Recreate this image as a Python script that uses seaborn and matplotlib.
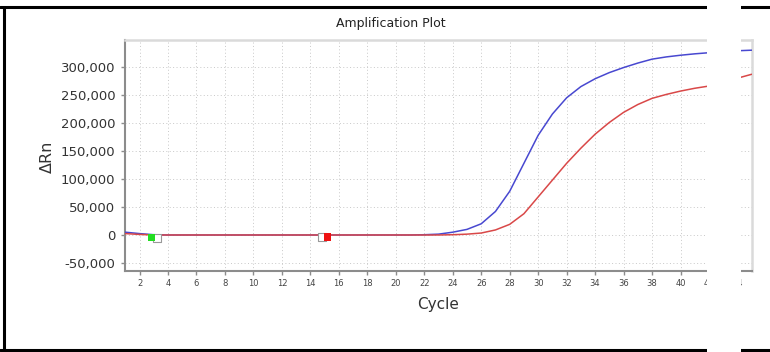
import matplotlib
matplotlib.use("Agg")
import matplotlib.pyplot as plt
from matplotlib.patches import Rectangle
from matplotlib.lines import Line2D
from matplotlib.ticker import FuncFormatter
import seaborn as sns
import pandas as pd

# ---- data ----
cycles = list(range(1, 46))
blue_drn = [5000, 2500, 500, 0, 0, 0, 0, 0, 0, 0,
            0, 0, 0, 0, 0, 0, 0, 0, 0, 0,
            0, 500, 1500, 5000, 10000, 20000, 42000, 78000, 128000, 178000,
            216000, 245000, 265000, 279000, 290000, 299000, 307000, 314000, 318000, 321000,
            323500, 325500, 327500, 329000, 330000]
red_drn = [2500, 1000, 0, 0, 0, 0, 0, 0, 0, 0,
           0, 0, 0, 0, 0, 0, 0, 0, 0, 0,
           0, 0, 0, 500, 1500, 3500, 9000, 19000, 38000, 68000,
           98000, 128000, 155000, 180000, 201000, 219000, 233000, 244000, 251000, 257000,
           262000, 266000, 272000, 280000, 287000]
samples = ["Sample A", "Sample B"]
marker_cycles = [3.2, 2.85, 14.8, 15.2]
marker_values = [-4500, -4500, -4000, -4000]
marker_kind = ["start", "baseline", "start", "end"]

title = "Amplification Plot"
xlabel = "Cycle"
ylabel = "\u0394Rn"
xticks = list(range(2, 46, 2))
yticks = list(range(-50000, 300001, 50000))

df = pd.DataFrame({
    "Cycle": cycles * 2,
    "dRn": blue_drn + red_drn,
    "sample": [samples[0]] * len(cycles) + [samples[1]] * len(cycles),
})
mk = pd.DataFrame({"Cycle": marker_cycles, "dRn": marker_values, "kind": marker_kind})

sns.set_theme(style="white")
plt.rcParams["font.family"] = ["DejaVu Sans"]
plt.rcParams["lines.solid_joinstyle"] = "round"

fig = plt.figure(figsize=(7.7, 3.52), dpi=100)
ax = fig.add_axes([125 / 770, 1 - 271 / 352, (752 - 125) / 770, (271 - 40) / 352])

sns.lineplot(data=df, x="Cycle", y="dRn", hue="sample",
             palette={samples[0]: "#4848d0", samples[1]: "#d94848"},
             linewidth=1.1, legend=False, ax=ax, zorder=3)

# baseline / threshold markers: open (white) squares and filled squares
open_mk = mk[mk["kind"] == "start"]
sns.scatterplot(data=open_mk, x="Cycle", y="dRn", marker="s", s=26,
                color="white", edgecolor="#999999", linewidth=0.8,
                legend=False, ax=ax, zorder=4)
fill_mk = mk[mk["kind"] != "start"]
sns.scatterplot(data=fill_mk, x="Cycle", y="dRn", hue="kind", marker="s", s=30,
                palette={"baseline": "#22dd22", "end": "#ee1111"},
                edgecolor="none", legend=False, ax=ax, zorder=5)

ax.set_xlim(0.98, 45.02)
ax.set_ylim(-64300, 348200)
ax.set_xticks(xticks)
ax.set_yticks(yticks)
ax.yaxis.set_major_formatter(FuncFormatter(lambda v, p: f"{int(v):,}"))

ax.grid(True, color="#c8c8c8", linestyle=(0, (1, 2.5)), linewidth=0.7)
ax.set_axisbelow(True)

for s in ["left", "bottom"]:
    ax.spines[s].set_color("#8c8c8c")
    ax.spines[s].set_linewidth(1.5)
for s in ["top", "right"]:
    ax.spines[s].set_color("#dadada")
    ax.spines[s].set_linewidth(1.8)

ax.tick_params(axis="both", which="both", direction="out", length=3, width=1,
               color="#8c8c8c", left=True, bottom=True)
ax.tick_params(axis="x", labelsize=6, pad=3, labelcolor="#444444")
ax.tick_params(axis="y", labelsize=9.5, pad=4, labelcolor="#333333")

ax.set_title(title, fontsize=9, pad=9, color="#222222", x=(391 - 125) / 627)
ax.set_xlabel(xlabel, fontsize=11, color="#333333")
ax.set_ylabel(ylabel, fontsize=11.5, color="#333333")
ax.xaxis.set_label_coords(0.4992, -0.112)
ax.yaxis.set_label_coords(-0.112, 0.4935)

# black frame of the screenshot
lw = 2.2
fig.add_artist(Line2D([0, 1], [1 - 6.5 / 352] * 2, transform=fig.transFigure,
                      color="black", lw=lw, zorder=6))
fig.add_artist(Line2D([0, 1], [2.5 / 352] * 2, transform=fig.transFigure,
                      color="black", lw=lw, zorder=6))
fig.add_artist(Line2D([4 / 770] * 2, [2.5 / 352, 1 - 6.5 / 352], transform=fig.transFigure,
                      color="black", lw=lw, zorder=6))
# white gap cutting through the screenshot
fig.add_artist(Rectangle((707 / 770, 0), 34 / 770, 1, transform=fig.transFigure,
                         facecolor="white", edgecolor="none", zorder=10))

fig.savefig("out.png", dpi=100)
